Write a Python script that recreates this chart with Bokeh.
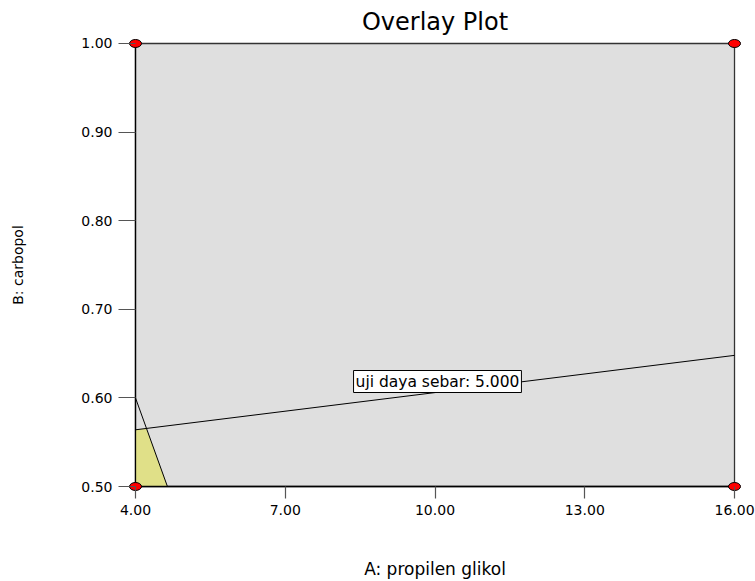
from bokeh.plotting import figure
from bokeh.models import Range1d, FixedTicker, Label
from bokeh.embed import file_html
from bokeh.resources import INLINE

# ---- data ----
x_ticks = [4.0, 7.0, 10.0, 13.0, 16.0]
x_tick_labels = ["4.00", "7.00", "10.00", "13.00", "16.00"]
y_ticks = [0.5, 0.6, 0.7, 0.8, 0.9, 1.0]
y_tick_labels = ["0.50", "0.60", "0.70", "0.80", "0.90", "1.00"]

a_min, a_max = 4.0, 16.0
b_min, b_max = 0.5, 1.0

# contour "uji daya sebar: 5.000"
contour1_x = [4.0, 16.0]
contour1_y = [0.564, 0.648]
# second constraint boundary
contour2_x = [4.0, 4.64]
contour2_y = [0.600, 0.500]
# feasible (overlay) region
region_x = [4.0, 4.0, 4.22, 4.64]
region_y = [0.500, 0.564, 0.5655, 0.500]

# design points
design_x = [4.0, 16.0, 4.0, 16.0]
design_y = [0.5, 0.5, 1.0, 1.0]

contour_label = "uji daya sebar: 5.000"
contour_label_x = 10.05
contour_label_y = 0.6185

FONT = "DejaVu Sans"

pad_x = 0.16
pad_y = 0.00677

p = figure(width=755, height=581,
           x_range=Range1d(a_min - pad_x, a_max + pad_x),
           y_range=Range1d(b_min - pad_y, b_max + pad_y),
           output_backend="svg", toolbar_location=None,
           min_border_left=127, min_border_right=13,
           min_border_top=37, min_border_bottom=89,
           title="Overlay Plot")
p.grid.visible = False
p.outline_line_color = None
p.background_fill_color = "white"
p.border_fill_color = "white"

p.title.align = "center"
p.title.text_font = FONT
p.title.text_font_size = "24px"
p.title.text_font_style = "normal"
p.title.text_color = "black"
p.title.standoff = 4

# axes
p.xaxis.ticker = FixedTicker(ticks=x_ticks)
p.xaxis.major_label_overrides = dict(zip(x_ticks, x_tick_labels))
p.yaxis.ticker = FixedTicker(ticks=y_ticks)
p.yaxis.major_label_overrides = dict(zip(y_ticks, y_tick_labels))

for ax in (p.xaxis, p.yaxis):
    ax.axis_line_color = None
    ax.minor_tick_line_color = None
    ax.major_tick_line_color = "#555555"
    ax.major_tick_line_width = 1.2
    ax.major_label_text_font = FONT
    ax.major_label_text_font_size = "14px"
    ax.major_label_text_color = "black"
    ax.axis_label_text_font = FONT
    ax.axis_label_text_font_style = "normal"
    ax.axis_label_text_color = "black"

p.xaxis.major_tick_in = 6
p.xaxis.major_tick_out = 6
p.xaxis.major_label_standoff = 6
p.xaxis.axis_label = "A: propilen glikol"
p.xaxis.axis_label_text_font_size = "17px"
p.xaxis.axis_label_standoff = 41

p.yaxis.major_tick_in = 8
p.yaxis.major_tick_out = 9
p.yaxis.major_label_standoff = 6
p.yaxis.axis_label = "B: carbopol"
p.yaxis.axis_label_text_font_size = "14px"
p.yaxis.axis_label_standoff = 52

# design space background
p.quad(left=[a_min], right=[a_max], bottom=[b_min], top=[b_max],
       fill_color="#dfdfdf", line_color="#333333", line_width=1.3)

# overlay region
p.patch(region_x, region_y, fill_color="#e0e088", line_color=None)

# contour lines
p.line(contour1_x, contour1_y, line_color="black", line_width=1)
p.line(contour2_x, contour2_y, line_color="black", line_width=1)

# frame edges (left & bottom axis lines in black)
p.line([a_min, a_min], [b_min, b_max], line_color="black", line_width=1.3)
p.line([a_min, a_max], [b_min, b_min], line_color="black", line_width=1.3)

# design points
p.ellipse(x=design_x, y=design_y, width=12, height=8,
          width_units="screen", height_units="screen",
          fill_color="#ff0000", line_color="black", line_width=1)

lbl = Label(x=contour_label_x, y=contour_label_y, text=contour_label,
            text_font=FONT, text_font_size="15.5px", text_color="black",
            text_align="center", text_baseline="middle",
            background_fill_color="white", border_line_color="black",
            border_line_width=1, padding=2)
p.add_layout(lbl)

open("out.html", "w").write(file_html(p, INLINE))
